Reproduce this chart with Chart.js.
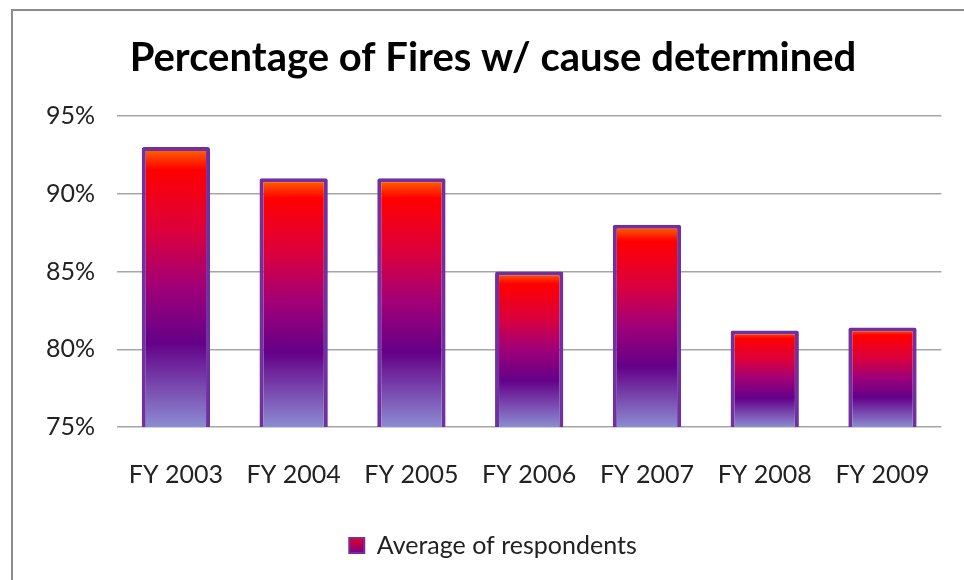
<!DOCTYPE html>
<html>
<head>
<meta charset="utf-8">
<script src="https://cdn.jsdelivr.net/npm/chart.js@4.4.1/dist/chart.umd.min.js"></script>
<style>
  html, body { margin: 0; padding: 0; background: #fff; overflow: hidden; }
  #frame {
    position: absolute; left: 11px; top: 9px;
    width: 1000px; height: 620px;
    border: 2px solid #8c8c8c;
  }
  #wrap { position: absolute; left: 0; top: 0; width: 964px; height: 580px; }
</style>
</head>
<body>
<div id="frame"></div>
<div id="wrap"><canvas id="chartFires" width="964" height="580"></canvas></div>
<script>
// Dados do gráfico
const categorias = ['FY 2003', 'FY 2004', 'FY 2005', 'FY 2006', 'FY 2007', 'FY 2008', 'FY 2009'];
const percentuais = [93, 91, 91, 85, 88, 81.2, 81.4];
const ticksY = [75, 80, 85, 90, 95];

const FONTE = "Lato, 'Open Sans', sans-serif";

// Degradê laranja -> vermelho -> roxo -> lavanda, aplicado em cada barra
function degrade(ctx, topo, base) {
  const g = ctx.createLinearGradient(0, topo, 0, base);
  g.addColorStop(0, '#ff7000');
  g.addColorStop(0.08, '#ff0000');
  g.addColorStop(0.3, '#dc003c');
  g.addColorStop(0.5, '#a00078');
  g.addColorStop(0.7, '#640088');
  g.addColorStop(1, '#8c8cd2');
  return g;
}

function corBarra(context) {
  const chart = context.chart;
  const y = chart.scales && chart.scales.y;
  if (context.type !== 'data' || !y) return '#b0006a';
  const topo = y.getPixelForValue(context.raw);
  const base = y.getPixelForValue(ticksY[0]);
  return degrade(chart.ctx, topo, base);
}

function criarGrafico() {
  const ctx = document.getElementById('chartFires').getContext('2d');

  new Chart(ctx, {
    type: 'bar',
    data: {
      labels: categorias,
      datasets: [{
        label: 'Average of respondents',
        data: percentuais,
        backgroundColor: corBarra,
        borderColor: '#7030a0',
        borderWidth: 4,
        borderRadius: 2,
        borderSkipped: false,
        categoryPercentage: 1,
        barPercentage: 0.58
      }]
    },
    options: {
      responsive: false,
      animation: false,
      layout: { padding: { left: 42, right: 20, top: 0, bottom: 12 } },
      plugins: {
        title: {
          display: true,
          text: 'Percentage of Fires w/ cause determined',
          color: '#000',
          font: { family: FONTE, size: 40, weight: 'bold' },
          padding: { top: 34, bottom: 34 }
        },
        legend: {
          position: 'bottom',
          labels: {
            color: '#222',
            font: { family: FONTE, size: 25 },
            boxWidth: 15,
            boxHeight: 15,
            padding: 10,
            generateLabels: function(chart) {
              const g = chart.ctx.createLinearGradient(0, 535, 0, 553);
              g.addColorStop(0, '#ff0000');
              g.addColorStop(1, '#7a0090');
              return [{
                text: 'Average of respondents',
                fillStyle: g,
                strokeStyle: '#7030a0',
                lineWidth: 2,
                fontColor: '#222',
                datasetIndex: 0
              }];
            }
          }
        },
        tooltip: { enabled: false }
      },
      scales: {
        x: {
          grid: { display: false, drawTicks: false },
          border: { display: false },
          ticks: {
            color: '#222',
            font: { family: FONTE, size: 25 },
            padding: 33
          },
          afterFit: function(scale) { scale.height = 96; }
        },
        y: {
          min: 75,
          max: 95,
          afterBuildTicks: function(scale) {
            scale.ticks = ticksY.map(v => ({ value: v }));
          },
          grid: { color: '#a6a6a6', lineWidth: 1.5, drawTicks: false },
          border: { display: false },
          ticks: {
            color: '#222',
            font: { family: FONTE, size: 25 },
            padding: 22,
            callback: function(value) {
              return value + '%';
            }
          },
          afterFit: function(scale) { scale.width = 75; }
        }
      }
    }
  });
}

criarGrafico();
</script>
</body>
</html>
